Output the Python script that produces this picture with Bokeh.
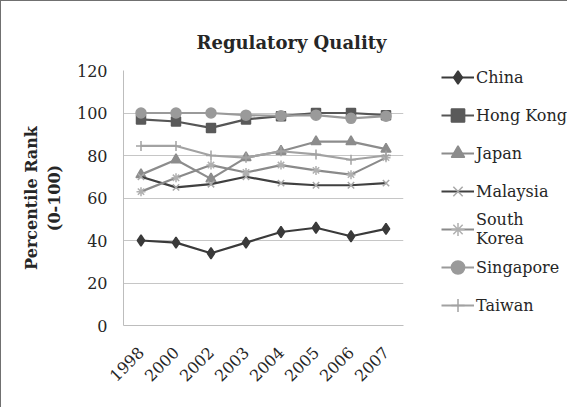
import math
from bokeh.plotting import figure
from bokeh.models import Legend, LegendItem, FixedTicker
from bokeh.embed import file_html
from bokeh.resources import INLINE

years = ["1998", "2000", "2002", "2003", "2004", "2005", "2006", "2007"]
china = [40, 39, 34, 39, 44, 46, 42, 45.5]
hong_kong = [97, 96, 93, 97, 98.5, 100, 100, 99]
japan = [71, 78, 69, 79, 82, 86.5, 86.5, 83]
malaysia = [70, 65, 66.5, 70, 67, 66, 66, 67]
south_korea = [63, 69.5, 75.5, 72, 75.5, 73, 71, 79]
singapore = [100, 100, 100, 99, 98.7, 99, 97.5, 98.5]
taiwan = [84.5, 84.5, 80, 79, 82, 80.5, 78, 80]
y_ticks = [0, 20, 40, 60, 80, 100, 120]

FONT = "DejaVu Serif"
TXT = "#262626"

p = figure(x_range=years, y_range=(0, 120), frame_width=280, frame_height=255,
           output_backend="svg", toolbar_location=None,
           min_border_left=123, min_border_right=160,
           min_border_top=70, min_border_bottom=82,
           title="Regulatory Quality")
p.outline_line_color = None
p.background_fill_color = "white"
p.border_fill_color = None
p.styles = {"box-shadow": "inset 1px 1px 0 0 #707070"}

p.title.text_font = FONT
p.title.text_font_size = "18px"
p.title.text_font_style = "bold"
p.title.text_color = TXT
p.title.align = "left"
p.title.offset = 73
p.title.standoff = 35

p.x_range.range_padding = 0
p.xgrid.grid_line_color = None
p.ygrid.grid_line_color = "#c6c6c6"
p.ygrid.grid_line_width = 1

p.yaxis.ticker = FixedTicker(ticks=y_ticks)
p.yaxis.axis_line_color = "#bdbdbd"
p.yaxis.major_tick_line_color = None
p.yaxis.minor_tick_line_color = None
p.yaxis.major_label_standoff = 10
p.yaxis.major_label_text_font = FONT
p.yaxis.major_label_text_font_size = "16px"
p.yaxis.major_label_text_color = TXT
p.yaxis.axis_label = "Percentile Rank\n(0-100)"
p.yaxis.axis_label_text_font = FONT
p.yaxis.axis_label_text_font_size = "16px"
p.yaxis.axis_label_text_font_style = "bold"
p.yaxis.axis_label_text_color = TXT
p.yaxis.axis_label_standoff = 10

p.xaxis.axis_line_color = "#bdbdbd"
p.xaxis.major_tick_line_color = None
p.xaxis.minor_tick_line_color = None
p.xaxis.major_label_orientation = math.pi / 4
p.xaxis.major_label_standoff = 18
p.xaxis.major_label_text_font = FONT
p.xaxis.major_label_text_font_size = "16px"
p.xaxis.major_label_text_color = TXT

series = [
    ("China", china, "#3a3a3a", "diamond", 11, "#3a3a3a"),
    ("Hong Kong", hong_kong, "#565656", "square", 9, "#5a5a5a"),
    ("Japan", japan, "#8c8c8c", "triangle", 10, "#8c8c8c"),
    ("Malaysia", malaysia, "#404040", "x", 9, "#a8a8a8"),
    ("South\nKorea", south_korea, "#8a8a8a", "asterisk", 9, "#b0b0b0"),
    ("Singapore", singapore, "#9a9a9a", "circle", 10, "#9a9a9a"),
    ("Taiwan", taiwan, "#a2a2a2", "cross", 10, "#a2a2a2"),
]

items = []
for name, vals, col, marker, size, mcol in series:
    ln = p.line(years, vals, line_color=col, line_width=2.2)
    sc = p.scatter(years, vals, marker=marker, size=size, fill_color=mcol,
                   line_color=mcol, line_width=1.5)
    items.append(LegendItem(label=name, renderers=[ln, sc]))

legend = Legend(items=items, location=(38, 1), orientation="vertical",
                glyph_width=33, glyph_height=38, label_height=38,
                label_width=20, spacing=0, padding=0, margin=0,
                label_standoff=2, border_line_alpha=0,
                background_fill_alpha=0,
                label_text_font=FONT, label_text_font_size="16px",
                label_text_color=TXT)
p.add_layout(legend, "right")

open("out.html", "w").write(file_html(p, INLINE))
